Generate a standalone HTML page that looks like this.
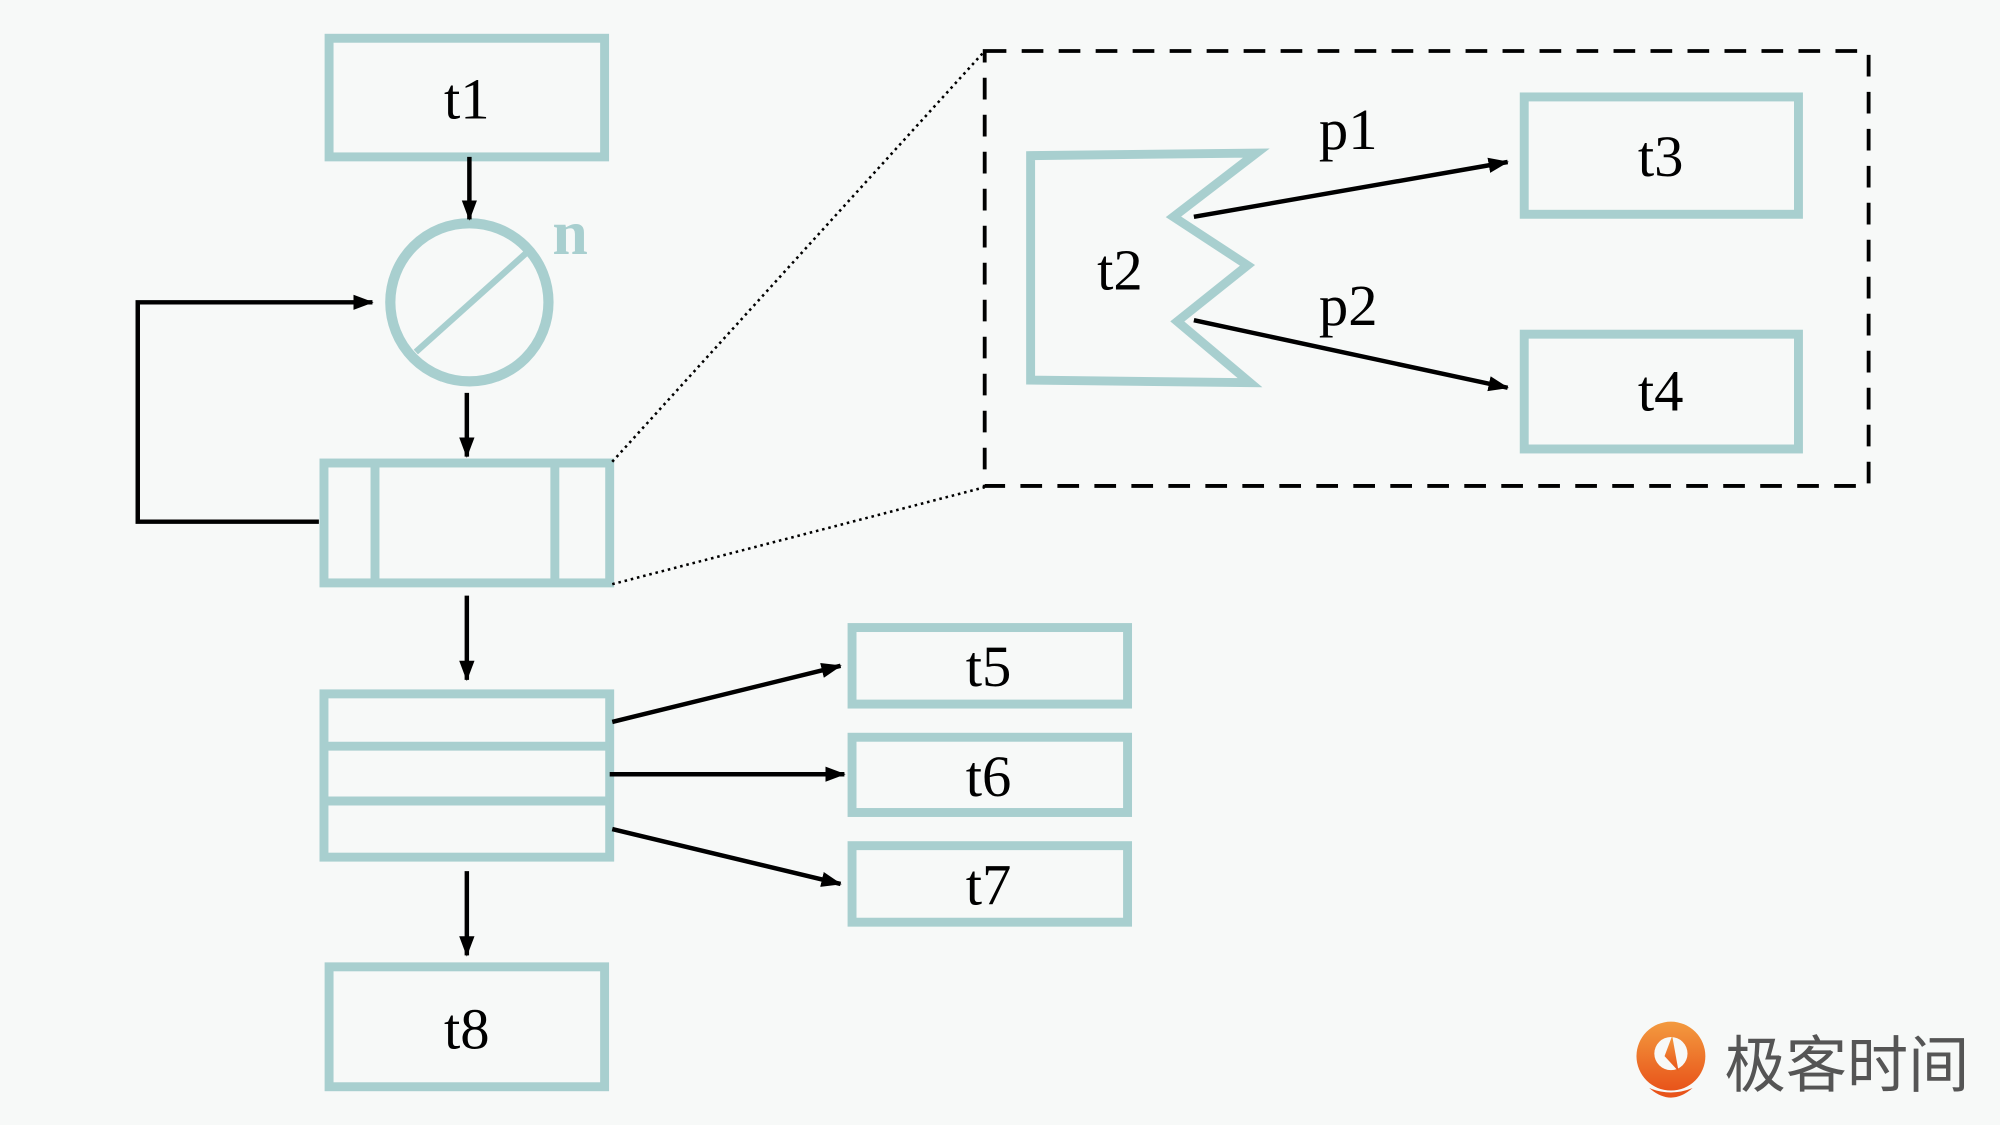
<!DOCTYPE html>
<html><head><meta charset="utf-8"><style>
html,body{margin:0;padding:0;background:#f7f9f8;}
svg{display:block;}
text{font-family:"Liberation Serif",serif;}
</style></head><body>
<svg width="2000" height="1125" viewBox="0 0 1568 882" xmlns="http://www.w3.org/2000/svg">
<defs>
<marker id="a" markerWidth="16" markerHeight="12" refX="15" refY="6" orient="auto" markerUnits="userSpaceOnUse" viewBox="0 0 16 12">
<path d="M0,0 L16,6 L0,12 z" fill="#000"/></marker>
<linearGradient id="og" x1="0" y1="0" x2="0" y2="1"><stop offset="0" stop-color="#f39a3f"/><stop offset="1" stop-color="#e8541a"/></linearGradient>
</defs>
<rect width="1568" height="882" fill="#f7f9f8"/>
<g fill="none" stroke="#a8cfcf" stroke-width="7">
<rect x="258" y="30" width="216" height="93"/>
<circle cx="368" cy="237" r="62" stroke-width="8"/>
<line x1="413" y1="198" x2="326" y2="276" stroke-width="5"/>
<rect x="254" y="363" width="224" height="94"/>
<line x1="294" y1="363" x2="294" y2="457"/>
<line x1="435" y1="363" x2="435" y2="457"/>
<polygon points="808,122 985,120 920,170 978,208 923,252 980,300 808,298"/>
<rect x="1195" y="76" width="215" height="92"/>
<rect x="1195" y="262" width="215" height="90"/>
<rect x="254" y="544" width="224" height="128"/>
<line x1="254" y1="585" x2="478" y2="585"/>
<line x1="254" y1="628" x2="478" y2="628"/>
<rect x="668" y="492" width="216" height="60"/>
<rect x="668" y="578" width="216" height="59"/>
<rect x="668" y="663" width="216" height="60"/>
<rect x="258" y="758" width="216" height="94"/>
</g>
<g stroke="#000" stroke-width="3.5" fill="none">
<line x1="368" y1="123" x2="368" y2="172" marker-end="url(#a)"/>
<line x1="366" y1="308" x2="366" y2="358" marker-end="url(#a)"/>
<polyline points="250,409 108,409 108,237 292,237" marker-end="url(#a)"/>
<line x1="936" y1="170" x2="1182" y2="127" marker-end="url(#a)"/>
<line x1="936" y1="251" x2="1182" y2="304" marker-end="url(#a)"/>
<line x1="366" y1="467" x2="366" y2="533" marker-end="url(#a)"/>
<line x1="480" y1="566" x2="659" y2="522" marker-end="url(#a)"/>
<line x1="478" y1="607" x2="662" y2="607" marker-end="url(#a)"/>
<line x1="480" y1="650" x2="659" y2="693" marker-end="url(#a)"/>
<line x1="366" y1="683" x2="366" y2="749" marker-end="url(#a)"/>
<rect x="772" y="40" width="693" height="341" stroke-width="3" stroke-dasharray="17,12"/>
<line x1="480" y1="362" x2="772" y2="40" stroke-width="2" stroke-dasharray="2,3"/>
<line x1="480" y1="458" x2="772" y2="382" stroke-width="2" stroke-dasharray="2,3"/>
</g>
<g font-size="46" fill="#000" text-anchor="middle">
<text x="366" y="93">t1</text>
<text x="878" y="227">t2</text>
<text x="1302" y="138">t3</text>
<text x="1302" y="322">t4</text>
<text x="1057" y="117">p1</text>
<text x="1057" y="255">p2</text>
<text x="775" y="538">t5</text>
<text x="775" y="624">t6</text>
<text x="775" y="709">t7</text>
<text x="366" y="822">t8</text>
</g>
<text x="447" y="199" font-size="50" font-weight="bold" fill="#a8cfcf" text-anchor="middle">n</text>
<circle cx="1310" cy="828" r="27" fill="url(#og)"/>
<circle cx="1310" cy="826" r="13" fill="#f7f9f8"/>
<path d="M1305,828 L1311,812 L1316,840 Z" fill="url(#og)"/>
<path d="M1293,853 Q1310,868 1327,853 Q1310,860 1293,853Z" fill="#e8541a"/>
<text x="1448" y="852" font-size="48" fill="#555" text-anchor="middle" style="font-family:'Noto Sans CJK SC',sans-serif">极客时间</text>
</svg>
</body></html>
